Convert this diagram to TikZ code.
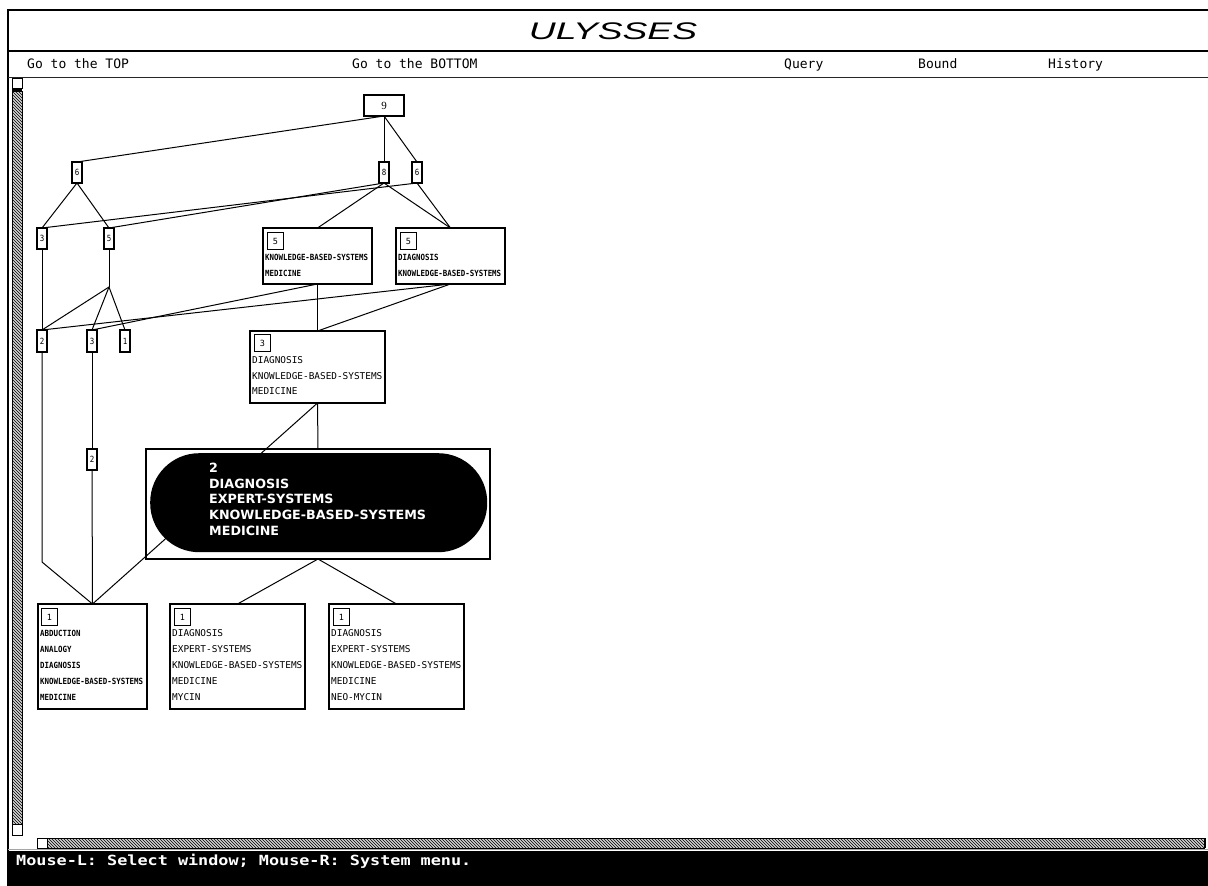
\documentclass[tikz,border=0pt]{standalone}
\usepackage{fontspec}
\setmainfont{DejaVu Sans}
\newfontfamily\monof{DejaVu Sans Mono}
\newfontfamily\narrowf[FakeStretch=0.875]{DejaVu Sans Mono}
\newfontfamily\statusf[FakeStretch=1.2]{DejaVu Sans Mono}
\newfontfamily\titlef[FakeStretch=1.55]{Liberation Sans}
\newfontfamily\serf{Liberation Serif}
\usetikzlibrary{patterns}
\tikzset{
  boxnode/.style={draw, line width=1.1pt, inner sep=0pt, outer sep=0pt, anchor=north west},
  smallnode/.style={draw, line width=1.1pt, inner sep=0pt, outer sep=0pt, anchor=north west,
     minimum width=10pt, minimum height=21pt, font=\fontsize{8.5}{9}\narrowf},
  numsq/.style={draw, line width=1.1pt, inner sep=0pt, anchor=north west,
     minimum width=16pt, minimum height=17pt, font=\fontsize{8.5}{9}\monof},
  ntxt/.style={anchor=west, inner sep=0pt, font=\fontsize{8.5}{9}\narrowf\bfseries},
  wtxt/.style={anchor=west, inner sep=0pt, font=\fontsize{9.4}{10}\monof},
  btxt/.style={anchor=west, inner sep=0pt, text=white, font=\fontsize{12.7}{13}\selectfont\bfseries},
  menutxt/.style={anchor=base west, inner sep=0pt, font=\fontsize{13}{13}\monof},
  edge/.style={line width=1pt},
  hatch/.style={pattern=north west lines, pattern color=black},
}
\begin{document}
\begin{tikzpicture}[x=1pt,y=-1pt]
\useasboundingbox (0,0) rectangle (1208,886);
\fill[white] (0,0) rectangle (1208,886);

% ---------- window chrome ----------
\draw[line width=2.4pt] (7,10) -- (1208,10);
\draw[line width=2.4pt] (8.2,10) -- (8.2,851);
\draw[line width=2pt] (8,51) -- (1208,51);
\draw[line width=1.2pt, black!85] (8,77.5) -- (1208,77.5);
\node[anchor=base, inner sep=0pt, font=\fontsize{24}{24}\titlef\itshape] (title) at (613,39) {ULYSSES};
\node[menutxt] (mtop) at (27,68) {Go to the TOP};
\node[menutxt] (mbot) at (352,68) {Go to the BOTTOM};
\node[menutxt] (mquery) at (784,68) {Query};
\node[menutxt] (mbound) at (918,68) {Bound};
\node[menutxt] (mhist) at (1048,68) {History};

% left scroll bar
\draw[line width=0.8pt] (12,78.5) rectangle (22,88.5);
\fill (11.6,88) rectangle (22.4,91);
\fill[gray!35] (12,91) rectangle (22,824);
\fill[hatch] (12,91) rectangle (22,824);
\draw[line width=0.8pt] (12,91) rectangle (22,824);
\draw[line width=0.8pt] (12,824) rectangle (22,835);
% bottom scroll bar
\draw[line width=0.8pt] (37,838) rectangle (47,848);
\fill[gray!35] (47,838) rectangle (1204,848);
\fill[hatch] (47,838) rectangle (1204,848);
\draw[line width=0.8pt] (47,838) rectangle (1204,848);
\draw[line width=1.2pt] (1205,838) -- (1205,848);
\draw[gray!70, line width=0.8pt] (8,849.6) -- (1208,849.6);
% status bar
\fill (7,851) rectangle (1208,886);
\node[anchor=base west, inner sep=0pt, text=white, font=\fontsize{14}{14}\statusf\bfseries] (status) at (16,865) {Mouse-L: Select window; Mouse-R: System menu.};

% ---------- lattice nodes ----------
\node[boxnode, minimum width=40pt, minimum height=21pt, font=\fontsize{11}{12}\serf] (n9) at (364,95) {9};

\node[smallnode] (n6a) at (72,162) {6};
\node[smallnode] (n8) at (379,162) {8};
\node[smallnode] (n6b) at (412,162) {6};

\node[smallnode] (n3a) at (37,228) {3};
\node[smallnode] (n5a) at (104,228) {5};

\node[boxnode, minimum width=109pt, minimum height=56pt] (kbm) at (263,228) {};
\node[numsq] (kbmsq) at (267,232) {5};
\node[ntxt] (kbm1) at (265,257) {KNOWLEDGE-BASED-SYSTEMS};
\node[ntxt] (kbm2) at (265,273) {MEDICINE};

\node[boxnode, minimum width=109pt, minimum height=56pt] (dk) at (396,228) {};
\node[numsq] (dksq) at (400,232) {5};
\node[ntxt] (dk1) at (398,257) {DIAGNOSIS};
\node[ntxt] (dk2) at (398,273) {KNOWLEDGE-BASED-SYSTEMS};

\node[smallnode, minimum height=22pt] (n2a) at (37,330) {2};
\node[smallnode, minimum height=22pt] (n3b) at (87,330) {3};
\node[smallnode, minimum height=22pt] (n1) at (120,330) {1};

\node[boxnode, minimum width=135pt, minimum height=72pt] (box3) at (250,331) {};
\node[numsq] (box3sq) at (254,334) {3};
\node[wtxt] (b31) at (252,360) {DIAGNOSIS};
\node[wtxt] (b32) at (252,376) {KNOWLEDGE-BASED-SYSTEMS};
\node[wtxt] (b33) at (252,391) {MEDICINE};

\node[smallnode] (n2b) at (87,449) {2};

\node[boxnode, minimum width=109pt, minimum height=105pt] (abd) at (38,604) {};
\node[numsq] (abdsq) at (41,608) {1};
\node[ntxt] (abd1) at (40,633) {ABDUCTION};
\node[ntxt] (abd2) at (40,649) {ANALOGY};
\node[ntxt] (abd3) at (40,665) {DIAGNOSIS};
\node[ntxt] (abd4) at (40,681) {KNOWLEDGE-BASED-SYSTEMS};
\node[ntxt] (abd5) at (40,697) {MEDICINE};

\node[boxnode, minimum width=135pt, minimum height=105pt] (myc) at (170,604) {};
\node[numsq] (mycsq) at (174,608) {1};
\node[wtxt] (myc1) at (172,633) {DIAGNOSIS};
\node[wtxt] (myc2) at (172,649) {EXPERT-SYSTEMS};
\node[wtxt] (myc3) at (172,665) {KNOWLEDGE-BASED-SYSTEMS};
\node[wtxt] (myc4) at (172,681) {MEDICINE};
\node[wtxt] (myc5) at (172,697) {MYCIN};

\node[boxnode, minimum width=135pt, minimum height=105pt] (neo) at (329,604) {};
\node[numsq] (neosq) at (333,608) {1};
\node[wtxt] (neo1) at (331,633) {DIAGNOSIS};
\node[wtxt] (neo2) at (331,649) {EXPERT-SYSTEMS};
\node[wtxt] (neo3) at (331,665) {KNOWLEDGE-BASED-SYSTEMS};
\node[wtxt] (neo4) at (331,681) {MEDICINE};
\node[wtxt] (neo5) at (331,697) {NEO-MYCIN};

\coordinate (j5) at (109,287);
\coordinate (b2a) at (42,562);

% ---------- connectors ----------
\draw[edge] (n9.south) -- (n6a.north);
\draw[edge] (n9.south) -- (n8.north);
\draw[edge] (n9.south) -- (n6b.north);

\draw[edge] (n6a.south) -- (n3a.north);
\draw[edge] (n6a.south) -- (n5a.north);
\draw[edge] (n8.south) -- (n5a.north);
\draw[edge] (n8.south) -- (kbm.north);
\draw[edge] (n8.south) -- (dk.north);
\draw[edge] (n6b.south) -- (n3a.north);
\draw[edge] (n6b.south) -- (dk.north);

\draw[edge] (n3a.south) -- (n2a.north);
\draw[edge] (n5a.south) -- (j5);
\draw[edge] (j5) -- (n2a.north);
\draw[edge] (j5) -- (n3b.north);
\draw[edge] (j5) -- (n1.north);
\draw[edge] (kbm.south) -- (n3b.north);
\draw[edge] (kbm.south) -- (box3.north);
\draw[edge] (dk.south) -- (n2a.north);
\draw[edge] (dk.south) -- (box3.north);

\draw[edge] (n3b.south) -- (n2b.north);
\draw[edge] (n2b.south) -- (abd.north);
\draw[edge] (n2a.south) -- (b2a) -- (abd.north);
\draw[edge] (box3.south) -- (abd.north);

% big selected node (drawn over the line it hides)
\node[boxnode, minimum width=344pt, minimum height=110pt] (big) at (146,449) {};
\node[fill=black, rounded corners=49pt, inner sep=0pt, anchor=north west,
      minimum width=337pt, minimum height=99pt] (stad) at (150,453) {};
\node[btxt] (bg1) at (209,468) {2};
\node[btxt] (bg2) at (209,484) {DIAGNOSIS};
\node[btxt] (bg3) at (209,499) {EXPERT-SYSTEMS};
\node[btxt] (bg4) at (209,515) {KNOWLEDGE-BASED-SYSTEMS};
\node[btxt] (bg5) at (209,531) {MEDICINE};

\draw[edge] (box3.south) -- (big.north);
\draw[edge] (big.south) -- (myc.north);
\draw[edge] (big.south) -- (neo.north);
\end{tikzpicture}
\end{document}
